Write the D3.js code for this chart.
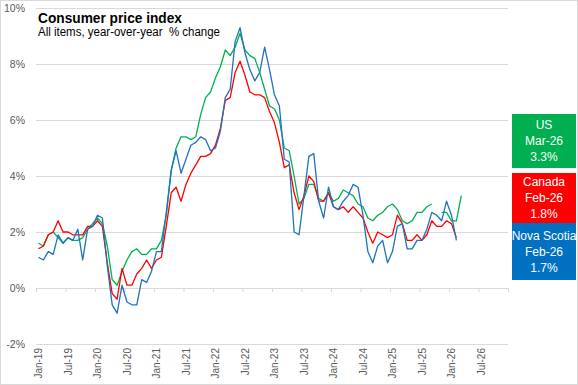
<!DOCTYPE html>
<html>
<head>
<meta charset="utf-8">
<script src="https://cdn.jsdelivr.net/npm/d3@7"></script>
<style>
  body { margin: 0; background: #fff; }
  svg { display: block; font-family: "Liberation Sans", Arial, sans-serif; }
</style>
</head>
<body>
<svg id="chart"></svg>
<script>

// CPI all items, year-over-year % change, monthly from Jan-19
var usCPI = [
  1.6, 1.5, 1.9, 2.0, 1.8, 1.6, 1.8, 1.7, 1.7, 1.8, 2.1, 2.3,
  2.5, 2.3, 1.5, 0.3, 0.1, 0.6, 1.0, 1.3, 1.4, 1.2, 1.2, 1.4,
  1.4, 1.7, 2.6, 4.2, 5.0, 5.4, 5.4, 5.3, 5.4, 6.2, 6.8, 7.0,
  7.5, 7.9, 8.5, 8.3, 8.6, 9.1, 8.5, 8.3, 8.2, 7.7, 7.1, 6.5,
  6.4, 6.0, 5.0, 4.9, 4.0, 3.0, 3.2, 3.7, 3.7, 3.2, 3.1, 3.4,
  3.1, 3.2, 3.5, 3.4, 3.3, 3.0, 2.9, 2.5, 2.4, 2.6, 2.7, 2.9,
  3.0, 2.8, 2.4, 2.3, 2.4, 2.7, 2.7, 2.9, 3.0, null, 2.7, 2.7,
  2.4, 2.4, 3.3
];
var canadaCPI = [
  1.4, 1.5, 1.9, 2.0, 2.4, 2.0, 2.0, 1.9, 1.9, 1.9, 2.2, 2.2,
  2.4, 2.2, 0.9, -0.2, -0.4, 0.7, 0.1, 0.1, 0.5, 0.7, 1.0, 0.7,
  1.0, 1.1, 2.2, 3.4, 3.6, 3.1, 3.7, 4.1, 4.4, 4.7, 4.7, 4.8,
  5.1, 5.7, 6.7, 6.8, 7.7, 8.1, 7.6, 7.0, 6.9, 6.9, 6.8, 6.3,
  5.9, 5.2, 4.3, 4.4, 3.4, 2.8, 3.3, 4.0, 3.8, 3.1, 3.1, 3.4,
  2.9, 2.8, 2.9, 2.7, 2.9, 2.7, 2.5, 2.0, 1.6, 2.0, 1.9, 1.8,
  1.9, 2.6, 2.3, 1.7, 1.7, 1.9, 1.7, 1.9, 2.4, 2.2, 2.2, 2.4,
  2.3, 1.8
];
var novaScotiaCPI = [
  1.1, 1.0, 1.3, 1.2, 1.9, 1.6, 1.8, 1.7, 2.1, 1.0, 2.1, 2.2,
  2.6, 2.5, 0.8, -0.6, -0.9, 0.1, -0.5, -0.6, -0.6, 0.3, 0.2, 0.6,
  1.3, 1.3, 2.7, 4.2, 4.9, 4.1, 4.6, 5.1, 5.2, 5.4, 5.3, 4.9,
  5.0, 5.6, 6.8, 7.1, 8.8, 9.3, 8.4, 7.8, 7.4, 7.7, 8.6, 7.8,
  6.9, 6.5, 4.6, 4.5, 2.0, 1.9, 3.3, 4.7, 4.8, 3.1, 2.5, 3.6,
  2.9, 2.8, 3.1, 3.3, 3.7, 3.6, 2.6, 1.3, 0.9, 1.5, 1.7, 0.9,
  1.3, 2.2, 2.3, 1.4, 1.4, 1.7, 1.7, 2.1, 2.7, 2.6, 2.4, 3.1,
  2.6, 1.7
];

var yTicks = [-2, 0, 2, 4, 6, 8, 10];
var xLabels = ["Jan-19", "Jul-19", "Jan-20", "Jul-20", "Jan-21", "Jul-21", "Jan-22", "Jul-22",
               "Jan-23", "Jul-23", "Jan-24", "Jul-24", "Jan-25", "Jul-25", "Jan-26", "Jul-26"];

var boxNames = ["US", "Canada", "Nova Scotia"];
var boxMonths = ["Mar-26", "Feb-26", "Feb-26"];
var boxValues = ["3.3%", "1.8%", "1.7%"];

var svgWidth = 578;
var svgHeight = 385;
var plotLeft = 36, plotRight = 508, plotTop = 8, plotBottom = 344;
var totalMonths = 96;

var svg = d3.select("#chart")
  .attr("width", svgWidth)
  .attr("height", svgHeight);

// chart border
svg.append("rect")
  .attr("x", 0.5).attr("y", 0.5)
  .attr("width", svgWidth - 1).attr("height", svgHeight - 1)
  .attr("fill", "#fff")
  .attr("stroke", "#d9d9d9");

var x = d3.scaleLinear().domain([0, totalMonths]).range([plotLeft, plotRight]);
var y = d3.scaleLinear().domain([-2, 10]).range([plotBottom, plotTop]);

// y axis with gridlines
var yAxis = svg.append("g")
  .attr("transform", "translate(" + plotLeft + ",0)")
  .call(d3.axisLeft(y)
    .tickValues(yTicks)
    .tickSize(-(plotRight - plotLeft))
    .tickPadding(11)
    .tickFormat(function(d) { return d + "%"; }));
yAxis.select(".domain").remove();
yAxis.selectAll("line").attr("stroke", "#d9d9d9");
yAxis.selectAll("text")
  .attr("fill", "#595959")
  .style("font-size", "10.5px")
  .style("font-family", "'Liberation Sans', Arial, sans-serif");

// tick marks on the zero line
var tickMonths = d3.range(0, totalMonths + 1, 6);
var zeroAxis = svg.append("g")
  .attr("transform", "translate(0," + y(0) + ")")
  .call(d3.axisBottom(x).tickValues(tickMonths).tickSize(4).tickSizeOuter(0).tickFormat(""));
zeroAxis.select(".domain").attr("stroke", "#d9d9d9");
zeroAxis.selectAll("line").attr("stroke", "#d9d9d9");

// rotated month labels at the bottom
var labelAxis = svg.append("g")
  .attr("transform", "translate(0," + (plotBottom + 4) + ")")
  .call(d3.axisBottom(x)
    .tickValues(xLabels.map(function(d, i) { return i * 6 + 0.5; }))
    .tickSize(0)
    .tickFormat(function(d, i) { return xLabels[i]; }));
labelAxis.select(".domain").remove();
labelAxis.selectAll("text")
  .attr("transform", "rotate(-90)")
  .attr("x", 0)
  .attr("y", 0)
  .attr("dy", "0.35em")
  .attr("fill", "#595959")
  .style("text-anchor", "end")
  .style("font-size", "10px")
  .style("font-family", "'Liberation Sans Narrow', 'Liberation Sans', Arial, sans-serif");

// lines
var series = [
  {values: usCPI, color: "#00b050"},
  {values: canadaCPI, color: "#ff0000"},
  {values: novaScotiaCPI, color: "#1f72bd"}
];

var line = d3.line()
  .defined(function(d) { return d != null; })
  .x(function(d, i) { return x(i + 0.5); })
  .y(function(d) { return y(d); });

svg.selectAll(".series")
  .data(series)
  .enter()
  .append("path")
  .attr("class", "series")
  .attr("d", function(d) { return line(d.values); })
  .attr("fill", "none")
  .attr("stroke", function(d) { return d.color; })
  .attr("stroke-width", 1.3)
  .attr("stroke-linejoin", "round");

// title
svg.append("text")
  .attr("x", 38).attr("y", 23)
  .attr("textLength", 144)
  .attr("lengthAdjust", "spacingAndGlyphs")
  .style("font-size", "15px")
  .style("font-weight", "bold")
  .attr("fill", "#000")
  .text("Consumer price index");

svg.append("text")
  .attr("x", 38).attr("y", 36)
  .attr("textLength", 182)
  .attr("lengthAdjust", "spacingAndGlyphs")
  .style("font-size", "12px")
  .style("white-space", "pre")
  .attr("fill", "#000")
  .text("All items, year-over-year  % change");

// value boxes on the right
var boxColors = ["#00b050", "#ff0000", "#0070c0"];
var boxTops = [114, 173, 223];
var boxHeights = [54, 50, 57];

var boxes = svg.selectAll(".box")
  .data(boxNames)
  .enter()
  .append("g")
  .attr("class", "box")
  .attr("transform", function(d, i) { return "translate(512," + boxTops[i] + ")"; });

boxes.append("rect")
  .attr("width", 64)
  .attr("height", function(d, i) { return boxHeights[i]; })
  .attr("fill", function(d, i) { return boxColors[i]; });

boxes.each(function(d, i) {
  var g = d3.select(this);
  var lines = [boxNames[i], boxMonths[i], boxValues[i]];
  var first = boxHeights[i] / 2 - 16;
  lines.forEach(function(t, k) {
    g.append("text")
      .attr("x", 32)
      .attr("y", first + k * 16)
      .attr("dy", "0.35em")
      .attr("text-anchor", "middle")
      .attr("fill", "#fff")
      .style("font-size", "12px")
      .text(t);
  });
});

</script>
</body>
</html>
